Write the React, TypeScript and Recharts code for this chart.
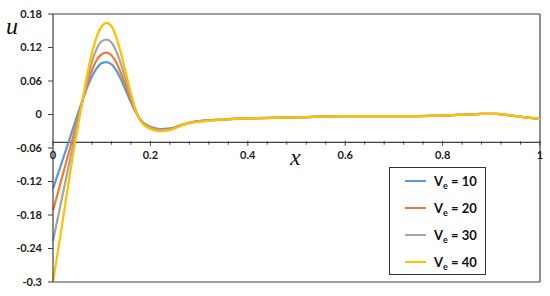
import React from 'react';
import { LineChart, Line, XAxis, YAxis, ReferenceLine, ReferenceDot } from 'recharts';

// x positions shared by every curve
const xValues = [0, 0.02, 0.04, 0.06, 0.07, 0.08, 0.09, 0.1, 0.11, 0.12, 0.13, 0.14, 0.15, 0.16, 0.17, 0.18, 0.2, 0.22, 0.24, 0.26, 0.28, 0.3, 0.35, 0.4, 0.5, 0.6, 0.7, 0.8, 0.85, 0.88, 0.91, 0.94, 0.97, 1];

// common tail (x >= 0.35)
const tail = [-0.009, -0.007, -0.005, -0.003, -0.003, -0.002, 0.0, 0.001, 0.001, -0.002, -0.005, -0.008];

const ve10 = [-0.133, -0.081, -0.028, 0.024, 0.048, 0.068, 0.083, 0.092, 0.094, 0.09, 0.079, 0.062, 0.042, 0.022, 0.004, -0.01, -0.022, -0.026, -0.025, -0.02, -0.015, -0.012, ...tail];
const ve20 = [-0.172, -0.108, -0.044, 0.022, 0.052, 0.079, 0.098, 0.108, 0.111, 0.106, 0.093, 0.073, 0.05, 0.026, 0.006, -0.01, -0.023, -0.027, -0.026, -0.02, -0.015, -0.012, ...tail];
const ve30 = [-0.226, -0.143, -0.06, 0.022, 0.06, 0.094, 0.118, 0.131, 0.134, 0.129, 0.113, 0.089, 0.061, 0.032, 0.007, -0.011, -0.024, -0.028, -0.027, -0.021, -0.015, -0.012, ...tail];
const ve40 = [-0.3, -0.19, -0.078, 0.022, 0.07, 0.11, 0.14, 0.158, 0.164, 0.158, 0.138, 0.108, 0.073, 0.038, 0.008, -0.012, -0.026, -0.03, -0.028, -0.021, -0.015, -0.013, ...tail];

const seriesNames = ['10', '20', '30', '40'];
const seriesColors = ['#5B9BD5', '#ED7D31', '#A5A5A5', '#FFC000'];
const seriesValues = [ve10, ve20, ve30, ve40];

const yTicks = [-0.3, -0.24, -0.18, -0.12, -0.06, 0, 0.06, 0.12, 0.18];
const xTicks = [0, 0.2, 0.4, 0.6, 0.8, 1];
const xTickLabels = ['0', '0.2', '0.4', '0.6', '0.8', '1'];
const xMinorTicks = [0.04, 0.08, 0.12, 0.16, 0.24, 0.28, 0.32, 0.36, 0.44, 0.48, 0.52, 0.56, 0.64, 0.68, 0.72, 0.76, 0.84, 0.88, 0.92, 0.96];
const yMinorTicks = Array.from({ length: 41 }, (_, i) => +(-0.3 + i * 0.012).toFixed(3));

const xAxisAt = -0.05;

const data = xValues.map((x, i) => {
  const row: Record<string, number> = { x };
  seriesNames.forEach((n, k) => { row['ve' + n] = seriesValues[k][i]; });
  return row;
});

const axisColor = '#404040';
const labelFont = 'Lato, "Liberation Sans", sans-serif';

export default function App() {
  return (
    <div style={{ position: 'absolute', left: 0, top: 0, width: 550, height: 296, background: '#fff' }}>
      <LineChart width={550} height={296} data={data} margin={{ top: 14, right: 10, bottom: 14, left: 0 }}>
        <XAxis type="number" dataKey="x" domain={[0, 1]} hide />
        <YAxis yAxisId="minor" domain={[-0.3, 0.18]} ticks={yMinorTicks} width={0} axisLine={false}
          tickSize={3} tickFormatter={() => ''} tickLine={{ stroke: axisColor }} allowDataOverflow />
        <YAxis yAxisId="main" domain={[-0.3, 0.18]} ticks={yTicks} width={53}
          axisLine={{ stroke: axisColor, strokeWidth: 1.2 }} tickLine={{ stroke: axisColor }} tickSize={5} tickMargin={6}
          tickFormatter={(v: number) => String(+v.toFixed(2))}
          tick={{ fill: '#222', fontSize: 11, fontWeight: 700, fontFamily: labelFont }} allowDataOverflow />

        <ReferenceLine yAxisId="main" y={0.18} stroke={axisColor} strokeWidth={1.2} />
        <ReferenceLine yAxisId="main" y={-0.3} stroke={axisColor} strokeWidth={1.2} />
        <ReferenceLine yAxisId="main" x={1} stroke={axisColor} strokeWidth={1.2} />
        <ReferenceLine yAxisId="main" y={xAxisAt} stroke={axisColor} strokeWidth={1.2} />
        {xTicks.map((t) => (
          <ReferenceLine key={'xt' + t} yAxisId="main" stroke={axisColor}
            segment={[{ x: t, y: xAxisAt + 0.003 }, { x: t, y: xAxisAt - 0.006 }]} />
        ))}
        {xMinorTicks.map((t) => (
          <ReferenceLine key={'xm' + t} yAxisId="main" stroke={axisColor}
            segment={[{ x: t, y: xAxisAt + 0.002 }, { x: t, y: xAxisAt - 0.004 }]} />
        ))}
        {xTicks.map((t, i) => (
          <ReferenceDot key={'xl' + t} yAxisId="main" x={t} y={xAxisAt} r={0} stroke="none" fill="none"
            label={{ value: xTickLabels[i], position: 'bottom', offset: 9, fill: '#222', fontSize: 11, fontWeight: 700, fontFamily: labelFont }} />
        ))}

        {seriesNames.map((n, k) => (
          <Line key={n} yAxisId="main" type="monotone" dataKey={'ve' + n} stroke={seriesColors[k]}
            strokeWidth={2.25} dot={false} isAnimationActive={false} />
        ))}
      </LineChart>

      <div style={{ position: 'absolute', left: 6, top: 14, fontFamily: '"Liberation Serif", serif', fontStyle: 'italic', fontSize: 24, lineHeight: '24px', color: '#111' }}>u</div>
      <div style={{ position: 'absolute', left: 290, top: 145, fontFamily: '"Liberation Serif", serif', fontStyle: 'italic', fontSize: 24, lineHeight: '24px', color: '#111' }}>x</div>

      <div style={{ position: 'absolute', left: 389, top: 167, width: 97, height: 108, border: '1px solid #333', background: '#fff', boxSizing: 'border-box' }}>
        {seriesNames.map((n, k) => (
          <div key={n} style={{ position: 'absolute', left: 15, top: 4 + k * 27, height: 18, display: 'flex', alignItems: 'center', fontFamily: labelFont, fontWeight: 700, fontSize: 13, color: '#111' }}>
            <span style={{ display: 'inline-block', width: 21, height: 2, background: seriesColors[k], marginRight: 8 }} />
            <span>V<span style={{ fontSize: 9, position: 'relative', top: 3 }}>e</span> = {n}</span>
          </div>
        ))}
      </div>
    </div>
  );
}
